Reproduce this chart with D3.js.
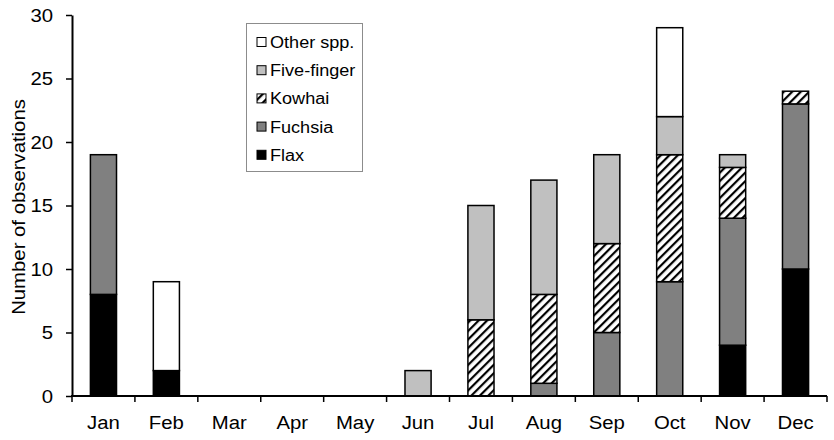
<!DOCTYPE html>
<html>
<head>
<meta charset="utf-8">
<script src="https://cdn.jsdelivr.net/npm/d3@7"></script>
<style>
  body { margin: 0; background: #fff; }
  text { font-family: "Liberation Sans", Arial, sans-serif; fill: #000; }
</style>
</head>
<body>
<svg id="chart" width="834" height="440"></svg>
<script>
// data
const months = ["Jan", "Feb", "Mar", "Apr", "May", "Jun", "Jul", "Aug", "Sep", "Oct", "Nov", "Dec"];
const species = ["Flax", "Fuchsia", "Kowhai", "Five-finger", "Other spp."];
const flax       = [8, 2, 0, 0, 0, 0, 0, 0, 0, 0, 4, 10];
const fuchsia    = [11, 0, 0, 0, 0, 0, 0, 1, 5, 9, 10, 13];
const kowhai     = [0, 0, 0, 0, 0, 0, 6, 7, 7, 10, 4, 1];
const fiveFinger = [0, 0, 0, 0, 0, 2, 9, 9, 7, 3, 1, 0];
const other      = [0, 7, 0, 0, 0, 0, 0, 0, 0, 7, 0, 0];
const yTicks = [0, 5, 10, 15, 20, 25, 30];

const seriesValues = [flax, fuchsia, kowhai, fiveFinger, other];
const rows = months.map((m, i) => {
  const r = { month: m };
  species.forEach((s, j) => r[s] = seriesValues[j][i]);
  return r;
});

const svg = d3.select("#chart");
const plotLeft = 72, plotRight = 827, plotTop = 15, plotBottom = 396;
const sx = 1.13; // text in the original is rendered a bit wide

const defs = svg.append("defs");
const pat = defs.append("pattern")
  .attr("id", "hatch")
  .attr("patternUnits", "userSpaceOnUse")
  .attr("width", 6).attr("height", 6)
  .attr("patternTransform", "rotate(45)");
pat.append("rect").attr("width", 6).attr("height", 6).attr("fill", "#fff");
pat.append("rect").attr("x", 0).attr("width", 2.2).attr("height", 6).attr("fill", "#000");

const fills = {
  "Flax": "#000",
  "Fuchsia": "#808080",
  "Kowhai": "url(#hatch)",
  "Five-finger": "#c0c0c0",
  "Other spp.": "#fff"
};

const x = d3.scaleBand().domain(months).range([plotLeft, plotRight])
  .paddingInner(0.585).paddingOuter(0.2925);
const y = d3.scaleLinear().domain([0, 30]).range([plotBottom, plotTop]);

const stack = d3.stack().keys(species)(rows);

// bars
svg.append("g").selectAll("g")
  .data(stack)
  .join("g")
  .attr("fill", d => fills[d.key])
  .selectAll("rect")
  .data(d => d.filter(p => p[1] > p[0]))
  .join("rect")
  .attr("x", d => x(d.data.month))
  .attr("width", x.bandwidth())
  .attr("y", d => y(d[1]))
  .attr("height", d => y(d[0]) - y(d[1]))
  .attr("stroke", "#000")
  .attr("stroke-width", 1.5);

// y axis
const yAxis = svg.append("g")
  .attr("transform", `translate(${plotLeft},0)`)
  .call(d3.axisLeft(y).tickValues(yTicks).tickSize(6).tickSizeOuter(0));
yAxis.select(".domain").attr("stroke-width", 2);
yAxis.selectAll(".tick line").attr("stroke-width", 1.5);
yAxis.selectAll("text")
  .attr("font-size", 18)
  .attr("x", -19 / sx)
  .attr("dy", "0.36em")
  .attr("transform", `scale(${sx},1)`);

// x axis: ticks between categories
const step = x.step();
const boundaries = d3.range(months.length + 1).map(i => plotLeft + i * step);
const xAxis = svg.append("g");
xAxis.append("line")
  .attr("x1", plotLeft - 1).attr("x2", plotRight)
  .attr("y1", plotBottom).attr("y2", plotBottom)
  .attr("stroke", "#000").attr("stroke-width", 2);
xAxis.selectAll(".xt").data(boundaries).join("line")
  .attr("x1", d => d).attr("x2", d => d)
  .attr("y1", plotBottom).attr("y2", plotBottom + 6)
  .attr("stroke", "#000").attr("stroke-width", 1.5);
xAxis.selectAll(".xl").data(months).join("text")
  .attr("transform", d => `translate(${x(d) + x.bandwidth() / 2},429) scale(${sx},1)`)
  .attr("text-anchor", "middle")
  .attr("font-size", 18)
  .text(d => d);

// y title
svg.append("text")
  .attr("transform", `translate(25,207) rotate(-90) scale(${sx},1)`)
  .attr("text-anchor", "middle")
  .attr("font-size", 18)
  .text("Number of observations");

// legend
const lg = svg.append("g").attr("transform", "translate(246,23)");
lg.append("rect")
  .attr("x", 0.5).attr("y", 0.5)
  .attr("width", 116).attr("height", 148)
  .attr("fill", "#fff").attr("stroke", "#8c8c8c");
const items = species.slice().reverse();
const li = lg.selectAll(".li").data(items).join("g")
  .attr("transform", (d, i) => `translate(11,${19 + i * 28.2})`);
li.append("rect")
  .attr("x", 0).attr("y", -4.5)
  .attr("width", 9).attr("height", 9)
  .attr("fill", d => fills[d])
  .attr("stroke", "#000").attr("stroke-width", 1);
li.append("text")
  .attr("transform", `translate(13,6) scale(${sx},1)`)
  .attr("font-size", 16)
  .text(d => d);
</script>
</body>
</html>
